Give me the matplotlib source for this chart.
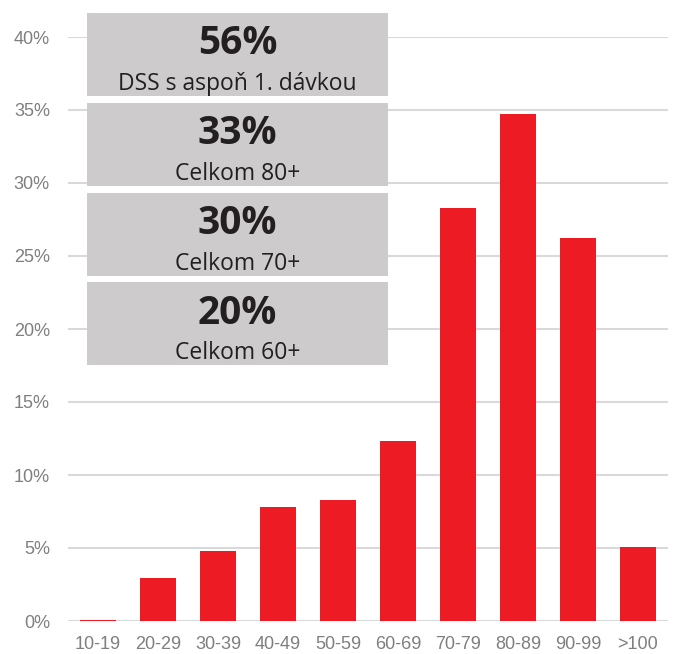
import numpy as np
import matplotlib
matplotlib.use('Agg')
import matplotlib.pyplot as plt
from matplotlib.patches import Rectangle
from matplotlib.ticker import FuncFormatter

# data
categories = ['10-19', '20-29', '30-39', '40-49', '50-59', '60-69', '70-79', '80-89', '90-99', '>100']
shares = [0.1, 2.95, 4.8, 7.8, 8.3, 12.3, 28.3, 34.7, 26.2, 5.07]
box_values = ['56%', '33%', '30%', '20%']
box_labels = ['DSS s aspoň 1. dávkou', 'Celkom 80+', 'Celkom 70+', 'Celkom 60+']

W, H = 674, 654
fig = plt.figure(figsize=(W / 100, H / 100), dpi=100)
ax = fig.add_axes([68 / W, 1 - 621 / H, 600 / W, (621 - 37) / H])

x = np.arange(len(categories))
ax.bar(x, shares, width=0.61, color='#ED1C24', zorder=3)
ax.set_xlim(-0.5, len(categories) - 0.5)
ax.set_ylim(0, 40)
ax.set_yticks(np.arange(0, 41, 5))
ax.yaxis.set_major_formatter(FuncFormatter(lambda v, p: '%d%%' % v))
ax.set_xticks(x)
ax.set_xticklabels(categories)
ax.grid(axis='y', color='#d9d9d9', linewidth=1.5, zorder=0)
for s in ax.spines.values():
    s.set_visible(False)
ax.tick_params(length=0, labelsize=13, labelcolor='#7f7f7f')
ax.tick_params(axis='x', pad=11)
ax.tick_params(axis='y', pad=13)
for lab in ax.get_xticklabels() + ax.get_yticklabels():
    lab.set_fontfamily('Liberation Sans')

# grey summary boxes (pixel positions -> figure fraction)
box_tops = [13, 103, 193, 282]
box_h = 83
bx0, bx1 = 87, 388
for top, val, lab in zip(box_tops, box_values, box_labels):
    fig.add_artist(Rectangle((bx0 / W, 1 - (top + box_h) / H), (bx1 - bx0) / W, box_h / H,
                             transform=fig.transFigure, facecolor='#cdcbcc',
                             edgecolor='none', zorder=5))
    cx = (bx0 + bx1) / 2 / W
    fig.text(cx, 1 - (top + 31) / H, val, ha='center', va='center', fontsize=28,
             fontweight='bold', color='#231f20', family='Open Sans', zorder=6)
    fig.text(cx, 1 - (top + 71) / H, lab, ha='center', va='center', fontsize=16.5,
             color='#231f20', family='Open Sans', zorder=6)

fig.savefig('out.png', dpi=100)
